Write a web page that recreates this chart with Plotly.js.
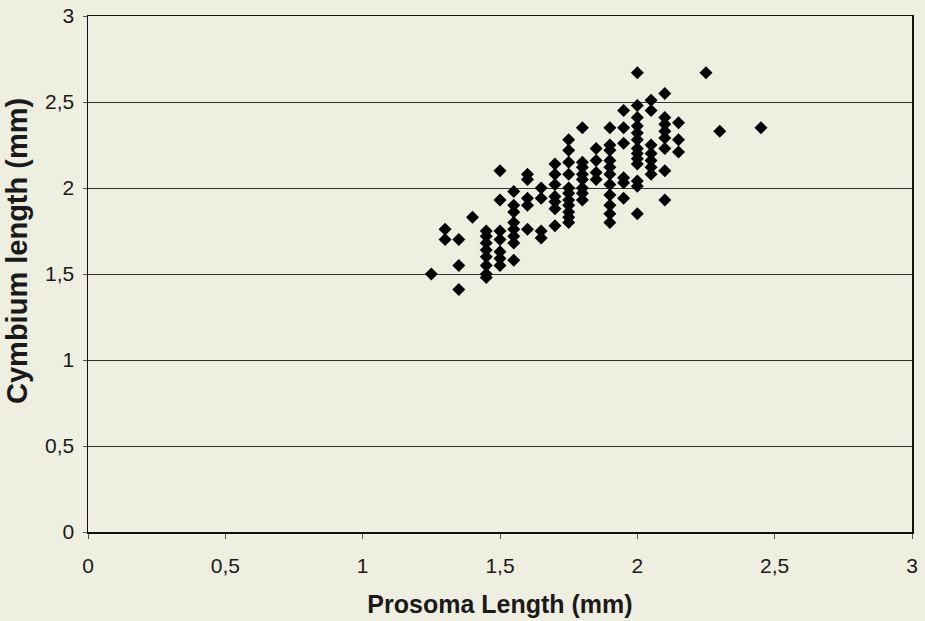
<!DOCTYPE html>
<html>
<head>
<meta charset="utf-8">
<script src="https://cdn.plot.ly/plotly-3.0.1.min.js"></script>
<style>
html,body{margin:0;padding:0;background:#efefe1;}
#chart{width:925px;height:621px;}
</style>
</head>
<body>
<div id="chart"></div>
<script>
// Prosoma length (mm) of each specimen
const prosomaLength = [
  1.25,
  1.3, 1.3,
  1.35, 1.35, 1.35,
  1.4,
  1.45, 1.45, 1.45, 1.45, 1.45, 1.45, 1.45, 1.45,
  1.5, 1.5, 1.5, 1.5, 1.5, 1.5, 1.5,
  1.55, 1.55, 1.55, 1.55, 1.55, 1.55, 1.55, 1.55,
  1.6, 1.6, 1.6, 1.6, 1.6,
  1.65, 1.65, 1.65, 1.65,
  1.7, 1.7, 1.7, 1.7, 1.7, 1.7, 1.7,
  1.75, 1.75, 1.75, 1.75, 1.75, 1.75, 1.75, 1.75, 1.75, 1.75, 1.75,
  1.8, 1.8, 1.8, 1.8, 1.8, 1.8, 1.8, 1.8,
  1.85, 1.85, 1.85, 1.85,
  1.9, 1.9, 1.9, 1.9, 1.9, 1.9, 1.9, 1.9, 1.9, 1.9, 1.9,
  1.95, 1.95, 1.95, 1.95, 1.95, 1.95,
  2.0, 2.0, 2.0, 2.0, 2.0, 2.0, 2.0, 2.0, 2.0, 2.0, 2.0, 2.0, 2.0,
  2.05, 2.05, 2.05, 2.05, 2.05, 2.05, 2.05,
  2.1, 2.1, 2.1, 2.1, 2.1, 2.1, 2.1, 2.1,
  2.15, 2.15, 2.15,
  2.25,
  2.3,
  2.45
];
// Cymbium length (mm) of the same specimens
const cymbiumLength = [
  1.5,
  1.76, 1.7,
  1.7, 1.55, 1.41,
  1.83,
  1.75, 1.72, 1.68, 1.64, 1.6, 1.55, 1.5, 1.48,
  2.1, 1.93, 1.75, 1.7, 1.63, 1.59, 1.55,
  1.98, 1.9, 1.86, 1.8, 1.76, 1.72, 1.68, 1.58,
  2.08, 2.05, 1.94, 1.9, 1.76,
  2.0, 1.94, 1.75, 1.71,
  2.14, 2.08, 2.02, 1.95, 1.92, 1.88, 1.78,
  2.28, 2.22, 2.15, 2.08, 2.0, 1.97, 1.93, 1.9, 1.86, 1.83, 1.8,
  2.35, 2.15, 2.12, 2.08, 2.05, 2.0, 1.97, 1.93,
  2.23, 2.16, 2.09, 2.05,
  2.35, 2.25, 2.22, 2.16, 2.12, 2.08, 2.02, 1.96, 1.9, 1.85, 1.8,
  2.45, 2.35, 2.26, 2.06, 2.03, 1.94,
  2.67, 2.48, 2.41, 2.36, 2.32, 2.28, 2.23, 2.2, 2.17, 2.14, 2.04, 2.01, 1.85,
  2.51, 2.45, 2.25, 2.2, 2.16, 2.12, 2.08,
  2.55, 2.41, 2.37, 2.33, 2.29, 2.23, 2.1, 1.93,
  2.38, 2.28, 2.21,
  2.67,
  2.33,
  2.35
];
const xTitle = 'Prosoma Length (mm)';
const yTitle = 'Cymbium length (mm)';

const trace = {
  x: prosomaLength,
  y: cymbiumLength,
  type: 'scatter',
  mode: 'markers',
  marker: {symbol: 'diamond', size: 10, color: '#000000', line: {width: 0}},
  hoverinfo: 'x+y'
};

const fontFam = '"Liberation Sans", Arial, sans-serif';
const layout = {
  width: 925, height: 621,
  margin: {l: 88, r: 13, t: 16, b: 89, pad: 0},
  paper_bgcolor: '#efefe1',
  plot_bgcolor: '#efefe1',
  separators: ',.',
  showlegend: false,
  font: {family: fontFam, color: '#1a1a1a', size: 21},
  xaxis: {
    range: [0, 3], dtick: 0.5, tick0: 0,
    showgrid: false, zeroline: false,
    showline: true, linecolor: '#111111', linewidth: 1.5, mirror: true,
    ticks: 'outside', ticklen: 5, tickcolor: '#555555', tickwidth: 1,
    ticklabelstandoff: 9,
    tickfont: {family: fontFam, size: 21, color: '#1a1a1a'},
    title: {text: xTitle, font: {family: fontFam, size: 25, color: '#1a1a1a', weight: 'bold'}, standoff: 20}
  },
  yaxis: {
    range: [0, 3], dtick: 0.5, tick0: 0,
    showgrid: true, gridcolor: '#333333', gridwidth: 1,
    zeroline: false,
    showline: true, linecolor: '#111111', linewidth: 1.5, mirror: true,
    ticks: 'outside', ticklen: 4, tickcolor: '#555555', tickwidth: 1,
    ticklabelstandoff: 4,
    tickfont: {family: fontFam, size: 21, color: '#1a1a1a'}
  },
  annotations: [{
    text: yTitle,
    xref: 'paper', yref: 'paper',
    x: -0.0862, y: 0.5446,
    xanchor: 'center', yanchor: 'middle',
    textangle: -90, showarrow: false,
    font: {family: fontFam, size: 29, color: '#1a1a1a', weight: 'bold'}
  }]
};

Plotly.newPlot('chart', [trace], layout, {displayModeBar: false, staticPlot: true});
</script>
</body>
</html>
